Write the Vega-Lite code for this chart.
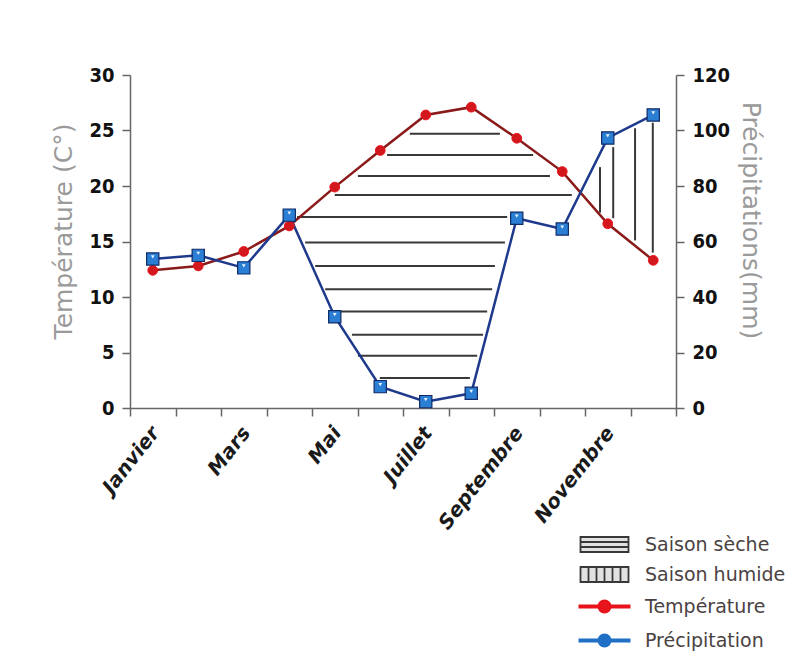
{
  "$schema": "https://vega.github.io/schema/vega-lite/v6.json",
  "width": 546,
  "height": 333,
  "autosize": "none",
  "padding": {"left": 130, "top": 75, "right": 124, "bottom": 252},
  "background": "white",
  "datasets": {
    "climat": [
      {"mois": 1, "nom": "Janvier", "temp": 12.4, "precip": 53.7},
      {"mois": 2, "nom": "Février", "temp": 12.8, "precip": 55.0},
      {"mois": 3, "nom": "Mars", "temp": 14.1, "precip": 50.5},
      {"mois": 4, "nom": "Avril", "temp": 16.4, "precip": 69.5},
      {"mois": 5, "nom": "Mai", "temp": 19.9, "precip": 32.9},
      {"mois": 6, "nom": "Juin", "temp": 23.2, "precip": 7.7},
      {"mois": 7, "nom": "Juillet", "temp": 26.4, "precip": 2.3},
      {"mois": 8, "nom": "Août", "temp": 27.1, "precip": 5.3},
      {"mois": 9, "nom": "Septembre", "temp": 24.3, "precip": 68.4},
      {"mois": 10, "nom": "Octobre", "temp": 21.3, "precip": 64.5},
      {"mois": 11, "nom": "Novembre", "temp": 16.6, "precip": 97.3},
      {"mois": 12, "nom": "Décembre", "temp": 13.3, "precip": 105.6}
    ],
    "seche": [
      {"t": 24.7, "mois": 6.65, "mois2": 8.63},
      {"t": 22.8, "mois": 6.15, "mois2": 9.36},
      {"t": 20.9, "mois": 5.51, "mois2": 9.73},
      {"t": 19.2, "mois": 5.0, "mois2": 10.21},
      {"t": 17.2, "mois": 4.17, "mois2": 8.79},
      {"t": 14.9, "mois": 4.35, "mois2": 8.74},
      {"t": 12.8, "mois": 4.57, "mois2": 8.52},
      {"t": 10.7, "mois": 4.79, "mois2": 8.46},
      {"t": 8.7, "mois": 5.12, "mois2": 8.35},
      {"t": 6.6, "mois": 5.38, "mois2": 8.26},
      {"t": 4.7, "mois": 5.51, "mois2": 8.13},
      {"t": 2.7, "mois": 5.99, "mois2": 7.97}
    ],
    "humide": [
      {"mois": 10.83, "t": 17.6, "t2": 21.7},
      {"mois": 11.12, "t": 17.1, "t2": 23.5},
      {"mois": 11.6, "t": 15.1, "t2": 25.2},
      {"mois": 11.99, "t": 14.0, "t2": 25.7}
    ]
  },
  "layer": [
    {
      "data": {"name": "seche"},
      "mark": {"type": "rule", "strokeWidth": 2},
      "encoding": {
        "x": {"field": "mois", "type": "quantitative", "scale": {"domain": [0.5, 12.5], "nice": false, "zero": false},
          "axis": {"title": null, "values": [0.5,1.5,2.5,3.5,4.5,5.5,6.5,7.5,8.5,9.5,10.5,11.5,12.5],
            "labelExpr": "datum.value == 0.5 ? 'Janvier' : datum.value == 2.5 ? 'Mars' : datum.value == 4.5 ? 'Mai' : datum.value == 6.5 ? 'Juillet' : datum.value == 8.5 ? 'Septembre' : datum.value == 10.5 ? 'Novembre' : ''"}},
        "x2": {"field": "mois2"},
        "y": {"field": "t", "type": "quantitative", "scale": {"domain": [0, 30], "nice": false}, "axis": null},
        "stroke": {
          "datum": "Saison sèche",
          "scale": {
            "domain": ["Saison sèche", "Saison humide", "Température", "Précipitation"],
            "range": ["#383838", "#383838", "#e8141c", "#1f6fc6"]
          },
          "legend": {
            "encode": {
              "symbols": {
                "update": {
                  "shape": {"signal": "datum.value == 'Saison sèche' ? 'M-2.4,-0.75H2.4V0.75H-2.4Z M-2.4,-0.25H2.4 M-2.4,0.25H2.4' : datum.value == 'Saison humide' ? 'M-2.4,-0.75H2.4V0.75H-2.4Z M-1.6,-0.75V0.75 M-0.8,-0.75V0.75 M0,-0.75V0.75 M0.8,-0.75V0.75 M1.6,-0.75V0.75' : 'M-2.6,0H2.6 M-0.5,0A0.5,0.5,0,1,1,0.5,0A0.5,0.5,0,1,1,-0.5,0Z'"},
                  "fill": {"signal": "datum.value == 'Température' ? '#e8141c' : datum.value == 'Précipitation' ? '#1f6fc6' : '#e2e2e2'"},
                  "strokeWidth": {"signal": "datum.value == 'Température' || datum.value == 'Précipitation' ? 4 : 1.8"},
                  "opacity": {"value": 1},
                  "fillOpacity": {"value": 1}
                }
              }
            }
          }
        }
      }
    },
    {
      "data": {"name": "humide"},
      "mark": {"type": "rule", "strokeWidth": 2},
      "encoding": {
        "x": {"field": "mois", "type": "quantitative", "scale": {"domain": [0.5, 12.5], "nice": false, "zero": false},
          "axis": {"title": null, "values": [0.5,1.5,2.5,3.5,4.5,5.5,6.5,7.5,8.5,9.5,10.5,11.5,12.5],
            "labelExpr": "datum.value == 0.5 ? 'Janvier' : datum.value == 2.5 ? 'Mars' : datum.value == 4.5 ? 'Mai' : datum.value == 6.5 ? 'Juillet' : datum.value == 8.5 ? 'Septembre' : datum.value == 10.5 ? 'Novembre' : ''"}},
        "y": {"field": "t", "type": "quantitative", "scale": {"domain": [0, 30], "nice": false}, "axis": null},
        "y2": {"field": "t2"},
        "stroke": {"datum": "Saison humide"}
      }
    },
    {
      "data": {"name": "climat"},
      "mark": {"type": "line", "strokeWidth": 2.5, "stroke": "#8b1a1a"},
      "encoding": {
        "x": {"field": "mois", "type": "quantitative", "scale": {"domain": [0.5, 12.5], "nice": false, "zero": false},
          "axis": {"title": null, "values": [0.5,1.5,2.5,3.5,4.5,5.5,6.5,7.5,8.5,9.5,10.5,11.5,12.5],
            "labelExpr": "datum.value == 0.5 ? 'Janvier' : datum.value == 2.5 ? 'Mars' : datum.value == 4.5 ? 'Mai' : datum.value == 6.5 ? 'Juillet' : datum.value == 8.5 ? 'Septembre' : datum.value == 10.5 ? 'Novembre' : ''"}},
        "y": {"field": "temp", "type": "quantitative", "scale": {"domain": [0, 30], "nice": false},
          "axis": {"orient": "left", "title": "Température (C°)", "values": [0,5,10,15,20,25,30], "titlePadding": 12, "titleY": 156}}
      }
    },
    {
      "data": {"name": "climat"},
      "mark": {"type": "line", "strokeWidth": 2.5, "stroke": "#1f3a8c"},
      "encoding": {
        "x": {"field": "mois", "type": "quantitative", "scale": {"domain": [0.5, 12.5], "nice": false, "zero": false},
          "axis": {"title": null, "values": [0.5,1.5,2.5,3.5,4.5,5.5,6.5,7.5,8.5,9.5,10.5,11.5,12.5],
            "labelExpr": "datum.value == 0.5 ? 'Janvier' : datum.value == 2.5 ? 'Mars' : datum.value == 4.5 ? 'Mai' : datum.value == 6.5 ? 'Juillet' : datum.value == 8.5 ? 'Septembre' : datum.value == 10.5 ? 'Novembre' : ''"}},
        "y": {"field": "precip", "type": "quantitative", "scale": {"domain": [0, 120], "nice": false},
          "axis": {"orient": "right", "title": "Précipitations(mm)", "values": [0,20,40,60,80,100,120], "titlePadding": 8, "titleY": 145}}
      }
    },
    {
      "data": {"name": "climat"},
      "mark": {"type": "point", "shape": "circle", "filled": true, "size": 95, "fill": "#d2171d", "strokeWidth": 1, "opacity": 1},
      "encoding": {
        "x": {"field": "mois", "type": "quantitative", "scale": {"domain": [0.5, 12.5], "nice": false, "zero": false},
          "axis": {"title": null, "values": [0.5,1.5,2.5,3.5,4.5,5.5,6.5,7.5,8.5,9.5,10.5,11.5,12.5],
            "labelExpr": "datum.value == 0.5 ? 'Janvier' : datum.value == 2.5 ? 'Mars' : datum.value == 4.5 ? 'Mai' : datum.value == 6.5 ? 'Juillet' : datum.value == 8.5 ? 'Septembre' : datum.value == 10.5 ? 'Novembre' : ''"}},
        "y": {"field": "temp", "type": "quantitative", "scale": {"domain": [0, 30], "nice": false}, "axis": null},
        "stroke": {"datum": "Température"}
      }
    },
    {
      "data": {"name": "climat"},
      "mark": {"type": "point", "shape": "square", "filled": true, "size": 150, "fill": "#2a7fd4", "stroke": "#0f2a66", "strokeWidth": 1.2, "opacity": 1},
      "encoding": {
        "x": {"field": "mois", "type": "quantitative", "scale": {"domain": [0.5, 12.5], "nice": false, "zero": false},
          "axis": {"title": null, "values": [0.5,1.5,2.5,3.5,4.5,5.5,6.5,7.5,8.5,9.5,10.5,11.5,12.5],
            "labelExpr": "datum.value == 0.5 ? 'Janvier' : datum.value == 2.5 ? 'Mars' : datum.value == 4.5 ? 'Mai' : datum.value == 6.5 ? 'Juillet' : datum.value == 8.5 ? 'Septembre' : datum.value == 10.5 ? 'Novembre' : ''"}},
        "y": {"field": "precip", "type": "quantitative", "scale": {"domain": [0, 120], "nice": false}, "axis": null}
      }
    },
    {
      "data": {"name": "climat"},
      "mark": {"type": "point", "shape": "triangle-down", "filled": true, "size": 14, "fill": "white", "strokeWidth": 0, "opacity": 0.9, "yOffset": -2},
      "encoding": {
        "x": {"field": "mois", "type": "quantitative", "scale": {"domain": [0.5, 12.5], "nice": false, "zero": false},
          "axis": {"title": null, "values": [0.5,1.5,2.5,3.5,4.5,5.5,6.5,7.5,8.5,9.5,10.5,11.5,12.5],
            "labelExpr": "datum.value == 0.5 ? 'Janvier' : datum.value == 2.5 ? 'Mars' : datum.value == 4.5 ? 'Mai' : datum.value == 6.5 ? 'Juillet' : datum.value == 8.5 ? 'Septembre' : datum.value == 10.5 ? 'Novembre' : ''"}},
        "y": {"field": "precip", "type": "quantitative", "scale": {"domain": [0, 120], "nice": false}, "axis": null},
        "stroke": {"datum": "Précipitation"}
      }
    }
  ],
  "resolve": {"scale": {"y": "independent", "stroke": "shared"}, "axis": {"y": "independent"}},
  "config": {
    "view": {"stroke": null},
    "axis": {
      "domainColor": "#666666",
      "domainWidth": 1.5,
      "tickColor": "#666666",
      "tickWidth": 1.5,
      "tickSize": 8,
      "grid": false,
      "labelFont": "Liberation Sans Narrow, DejaVu Sans Condensed, Roboto Condensed, Roboto",
      "labelFontWeight": "bold",
      "labelFontSize": 20,
      "labelColor": "#111111",
      "labelPadding": 8,
      "titleFont": "DejaVu Sans",
      "titleFontWeight": "normal",
      "titleFontSize": 25,
      "titleColor": "#9a9a9a"
    },
    "axisX": {
      "labelAngle": -52,
      "labelAlign": "right",
      "labelBaseline": "middle",
      "labelOffset": 25,
      "labelPadding": 13,
      "labelFont": "DejaVu Sans",
      "labelFontStyle": "italic",
      "labelFontSize": 20,
      "labelColor": "#1a1a1a",
      "labelOverlap": false,
      "labelBound": false,
      "labelFlush": false
    },
    "legend": {
      "orient": "none",
      "legendX": 465,
      "legendY": 460,
      "title": null,
      "labelFont": "DejaVu Sans",
      "labelFontSize": 19,
      "labelColor": "#4a4242",
      "symbolSize": 400,
      "labelOffset": 31,
      "rowPadding": 7
    }
  }
}
